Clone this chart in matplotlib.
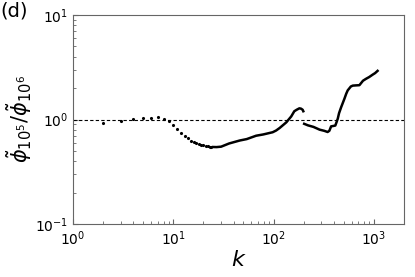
import numpy as np
import matplotlib
matplotlib.use('Agg')
import matplotlib.pyplot as plt

# low-k points (individual dots)
k_low = [2, 3, 4, 5, 6, 7, 8, 9, 10, 11, 12, 13, 14, 15, 16, 17, 18, 19, 20, 21, 22, 23, 24]
r_low = [0.93, 0.96, 1.01, 1.04, 1.04, 1.05, 1.02, 0.97, 0.89, 0.81, 0.75, 0.70, 0.66, 0.63,
         0.61, 0.595, 0.585, 0.575, 0.565, 0.558, 0.553, 0.55, 0.548]

# dense part, first branch
k_mid = [25, 27, 30, 36, 46, 54, 67, 79, 98, 106, 115, 134, 150, 161, 170, 181, 188, 195, 198]
r_mid = [0.546, 0.545, 0.55, 0.59, 0.63, 0.65, 0.70, 0.72, 0.756, 0.785, 0.83, 0.94, 1.07,
         1.2, 1.24, 1.28, 1.27, 1.24, 1.2]

# dense part, second branch
k_high = [202, 220, 250, 288, 320, 346, 360, 375, 400, 413, 426, 437, 450, 472, 509, 530,
          549, 590, 617, 660, 718, 780, 835, 900, 970, 1030, 1090]
r_high = [0.91, 0.88, 0.85, 0.80, 0.78, 0.76, 0.78, 0.86, 0.87, 0.876, 0.95, 1.02, 1.15, 1.31,
          1.58, 1.76, 1.90, 2.07, 2.11, 2.12, 2.13, 2.35, 2.45, 2.55, 2.68, 2.78, 2.92]

fig = plt.figure(figsize=(4.15, 2.77), dpi=100)
ax = fig.add_axes([0.176, 0.191, 0.7975, 0.755])

ax.axhline(1.0, color='k', ls='--', lw=0.8, dashes=(3, 2))
ax.plot(k_low, r_low, 'k.', ms=2.5)
ax.plot(k_mid, r_mid, 'k-', lw=1.8)
ax.plot(k_high, r_high, 'k-', lw=1.8)

ax.set_xscale('log')
ax.set_yscale('log')
ax.set_xlim(1, 2000)
ax.set_ylim(0.1, 10)

ax.set_xlabel('$k$', fontsize=16, labelpad=2)
ax.set_ylabel(r'$\tilde{\phi}_{10^5}/\tilde{\phi}_{10^6}$', fontsize=15, labelpad=1)
ax.tick_params(which='both', direction='in', color='#666666', labelsize=10)
for s in ax.spines.values():
    s.set_color('#666666')

fig.text(0.0, 0.995, '(d)', fontsize=14, va='top')

fig.savefig('out.png', dpi=100)
